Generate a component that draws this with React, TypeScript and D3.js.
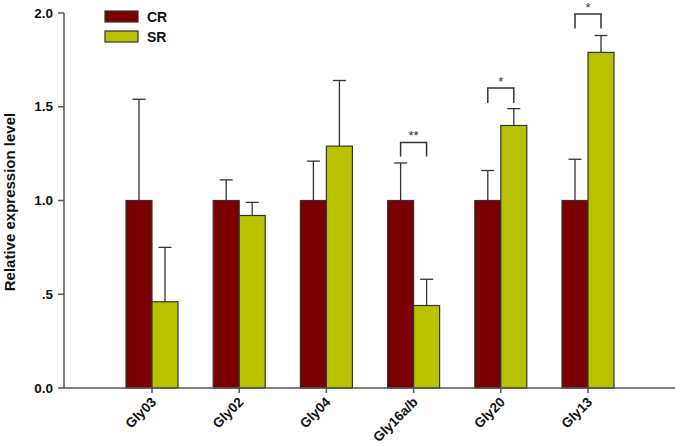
import React from "react";
import * as d3 from "d3";

const categories = ["Gly03", "Gly02", "Gly04", "Gly16a/b", "Gly20", "Gly13"];
const crValues = [1.0, 1.0, 1.0, 1.0, 1.0, 1.0];
const crErrors = [0.54, 0.11, 0.21, 0.2, 0.16, 0.22];
const srValues = [0.46, 0.92, 1.29, 0.44, 1.4, 1.79];
const srErrors = [0.29, 0.07, 0.35, 0.14, 0.09, 0.09];
const yTicks = [0, 0.5, 1.0, 1.5, 2.0];
const yTickLabels = ["0.0", ".5", "1.0", "1.5", "2.0"];
const sigCategories = ["Gly16a/b", "Gly20", "Gly13"];
const sigLabels = ["**", "*", "*"];
const sigTop = [1.31, 1.6, 1.995];
const sigBottom = [1.235, 1.52, 1.918];
const seriesNames = ["CR", "SR"];

const CR_COLOR = "#7c0000";
const SR_COLOR = "#b7c200";
const colors = [CR_COLOR, SR_COLOR];

const W = 680;
const H = 447;
const left = 64;
const right = 675;
const top = 13;
const bottom = 388;
const font = "Liberation Sans, Arial, sans-serif";

export default function App() {
  const y = d3.scaleLinear().domain([0, 2]).range([bottom, top]);
  const x = d3
    .scalePoint<string>()
    .domain(categories)
    .range([152, 588]);
  const bw = 26;

  return (
    <div style={{ position: "absolute", left: 0, top: 0 }}>
      <svg width={W} height={H} style={{ display: "block" }}>
        <rect width={W} height={H} fill="#fff" />
        {/* error bars */}
        {categories.map((c, i) => {
          const cx = x(c)!;
          const items = [
            { xc: cx - bw / 2, v: crValues[i], e: crErrors[i] },
            { xc: cx + bw / 2, v: srValues[i], e: srErrors[i] },
          ];
          return items.map((it, j) => (
            <g key={c + j} stroke="#333" strokeWidth={1.3}>
              <line x1={it.xc} x2={it.xc} y1={y(it.v)} y2={y(it.v + it.e)} />
              <line x1={it.xc - 6.5} x2={it.xc + 6.5} y1={y(it.v + it.e)} y2={y(it.v + it.e)} />
            </g>
          ));
        })}
        {/* bars */}
        {categories.map((c, i) => {
          const cx = x(c)!;
          return (
            <g key={c}>
              <rect
                x={cx - bw}
                y={y(crValues[i])}
                width={bw}
                height={y(0) - y(crValues[i])}
                fill={CR_COLOR}
                stroke="#333"
                strokeWidth={1.2}
              />
              <rect
                x={cx}
                y={y(srValues[i])}
                width={bw}
                height={y(0) - y(srValues[i])}
                fill={SR_COLOR}
                stroke="#333"
                strokeWidth={1.2}
              />
            </g>
          );
        })}
        {/* significance brackets */}
        {sigCategories.map((c, i) => {
          const cx = x(c)!;
          const x1 = cx - bw / 2;
          const x2 = cx + bw / 2;
          return (
            <g key={"sig" + c}>
              <path
                d={`M${x1},${y(sigBottom[i])}V${y(sigTop[i])}H${x2}V${y(sigBottom[i])}`}
                fill="none"
                stroke="#333"
                strokeWidth={1.5}
              />
              <text
                x={cx}
                y={y(sigTop[i]) - 2}
                textAnchor="middle"
                fontFamily={font}
                fontSize={13}
                fill="#333"
              >
                {sigLabels[i]}
              </text>
            </g>
          );
        })}
        {/* axes */}
        <line x1={left} x2={left} y1={top} y2={bottom} stroke="#555" strokeWidth={1.5} />
        <line x1={left} x2={right} y1={bottom} y2={bottom} stroke="#555" strokeWidth={1.5} />
        {yTicks.map((t, i) => (
          <g key={"yt" + t}>
            <line x1={left - 6} x2={left} y1={y(t)} y2={y(t)} stroke="#555" strokeWidth={1.5} />
            <text
              x={left - 11}
              y={y(t)}
              dy="0.35em"
              textAnchor="end"
              fontFamily={font}
              fontWeight="bold"
              fontSize={13.5}
              fill="#111"
            >
              {yTickLabels[i]}
            </text>
          </g>
        ))}
        {categories.map((c) => {
          const cx = x(c)!;
          return (
            <g key={"xt" + c}>
              <line x1={cx} x2={cx} y1={bottom} y2={bottom + 5} stroke="#555" strokeWidth={1.5} />
              <text
                transform={`translate(${cx + 5},${bottom + 15}) rotate(-45)`}
                textAnchor="end"
                fontFamily={font}
                fontWeight="bold"
                fontSize={13.5}
                fill="#111"
              >
                {c}
              </text>
            </g>
          );
        })}
        <text
          transform={`translate(15,202) rotate(-90)`}
          textAnchor="middle"
          fontFamily={font}
          fontWeight="bold"
          fontSize={15}
          fill="#111"
        >
          Relative expression level
        </text>
        {/* legend */}
        {seriesNames.map((s, i) => (
          <g key={"lg" + s}>
            <rect
              x={105}
              y={11 + i * 20}
              width={33}
              height={11}
              fill={colors[i]}
              stroke="#333"
              strokeWidth={1.2}
            />
            <text
              x={147}
              y={21.5 + i * 20}
              fontFamily={font}
              fontWeight="bold"
              fontSize={14}
              fill="#111"
            >
              {s}
            </text>
          </g>
        ))}
      </svg>
    </div>
  );
}
